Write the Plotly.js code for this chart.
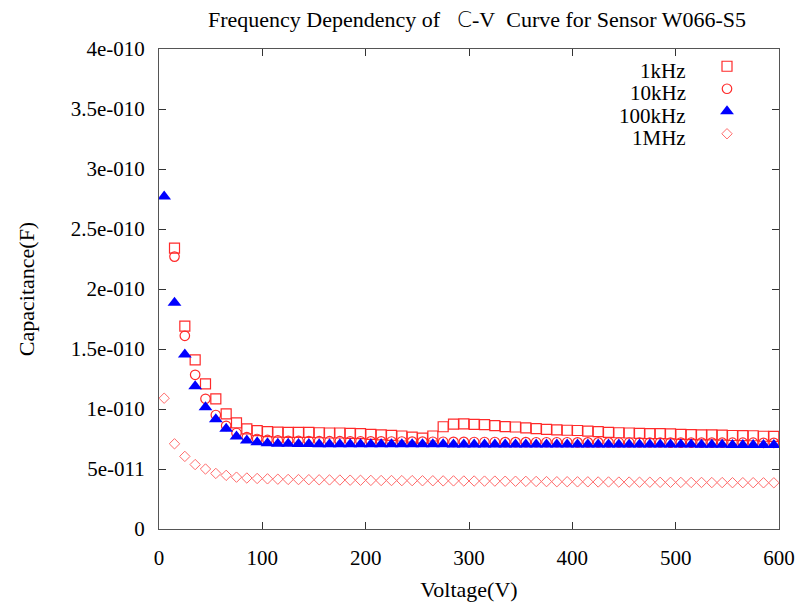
<!DOCTYPE html>
<html>
<head>
<meta charset="utf-8">
<script src="https://cdn.plot.ly/plotly-3.0.1.min.js"></script>
<style>html,body{margin:0;padding:0;background:#fff;}#chart{width:803px;height:602px;}</style>
</head>
<body>
<div id="chart"></div>
<script>
// Voltage (V)
var volts = [5,15,25,35,45,55,65,75,85,95,105,115,125,135,145,155,165,175,185,195,205,215,225,235,245,255,265,275,285,295,305,315,325,335,345,355,365,375,385,395,405,415,425,435,445,455,465,475,485,495,505,515,525,535,545,555,565,575,585,595];

// Capacitance (F) per frequency
var cap1kHz = [null,2.34e-10,1.69e-10,1.41e-10,1.21e-10,1.085e-10,0.96e-10,0.885e-10,0.835e-10,0.82e-10,0.812e-10,0.808e-10,0.806e-10,0.805e-10,0.805e-10,0.802e-10,0.80e-10,0.80e-10,0.797e-10,0.794e-10,0.788e-10,0.784e-10,0.78e-10,0.775e-10,0.765e-10,0.758e-10,0.775e-10,0.852e-10,0.874e-10,0.876e-10,0.872e-10,0.869e-10,0.862e-10,0.853e-10,0.85e-10,0.843e-10,0.836e-10,0.83e-10,0.826e-10,0.823e-10,0.821e-10,0.815e-10,0.812e-10,0.806e-10,0.802e-10,0.80e-10,0.797e-10,0.795e-10,0.794e-10,0.792e-10,0.789e-10,0.786e-10,0.785e-10,0.784e-10,0.782e-10,0.779e-10,0.778e-10,0.777e-10,0.773e-10,0.772e-10];
var cap10kHz = [null,2.27e-10,1.61e-10,1.285e-10,1.085e-10,0.95e-10,0.86e-10,0.80e-10,0.765e-10,0.75e-10,0.742e-10,0.738e-10,0.735e-10,0.734e-10,0.733e-10,0.733e-10,0.732e-10,0.732e-10,0.731e-10,0.731e-10,0.730e-10,0.730e-10,0.729e-10,0.729e-10,0.728e-10,0.728e-10,0.727e-10,0.727e-10,0.726e-10,0.726e-10,0.725e-10,0.725e-10,0.725e-10,0.724e-10,0.724e-10,0.724e-10,0.723e-10,0.723e-10,0.723e-10,0.723e-10,0.722e-10,0.722e-10,0.722e-10,0.722e-10,0.721e-10,0.721e-10,0.721e-10,0.721e-10,0.721e-10,0.720e-10,0.720e-10,0.720e-10,0.720e-10,0.720e-10,0.719e-10,0.719e-10,0.719e-10,0.719e-10,0.718e-10,0.718e-10];
var cap100kHz = [2.77e-10,1.885e-10,1.455e-10,1.19e-10,1.015e-10,0.915e-10,0.835e-10,0.77e-10,0.738e-10,0.722e-10,0.714e-10,0.711e-10,0.710e-10,0.709e-10,0.709e-10,0.707e-10,0.707e-10,0.707e-10,0.707e-10,0.707e-10,0.707e-10,0.707e-10,0.707e-10,0.707e-10,0.707e-10,0.707e-10,0.707e-10,0.706e-10,0.704e-10,0.704e-10,0.704e-10,0.704e-10,0.704e-10,0.704e-10,0.704e-10,0.704e-10,0.704e-10,0.704e-10,0.704e-10,0.704e-10,0.704e-10,0.704e-10,0.704e-10,0.704e-10,0.704e-10,0.704e-10,0.704e-10,0.704e-10,0.704e-10,0.704e-10,0.704e-10,0.704e-10,0.703e-10,0.703e-10,0.703e-10,0.701e-10,0.701e-10,0.701e-10,0.701e-10,0.701e-10];
var cap1MHz = [1.09e-10,0.71e-10,0.605e-10,0.537e-10,0.50e-10,0.463e-10,0.447e-10,0.432e-10,0.425e-10,0.421e-10,0.418e-10,0.415e-10,0.413e-10,0.412e-10,0.411e-10,0.410e-10,0.409e-10,0.408e-10,0.407e-10,0.406e-10,0.405e-10,0.404e-10,0.404e-10,0.403e-10,0.403e-10,0.402e-10,0.402e-10,0.401e-10,0.401e-10,0.400e-10,0.400e-10,0.399e-10,0.399e-10,0.398e-10,0.398e-10,0.397e-10,0.396e-10,0.395e-10,0.394e-10,0.394e-10,0.393e-10,0.393e-10,0.392e-10,0.392e-10,0.391e-10,0.391e-10,0.390e-10,0.390e-10,0.389e-10,0.389e-10,0.388e-10,0.388e-10,0.388e-10,0.387e-10,0.387e-10,0.386e-10,0.386e-10,0.386e-10,0.385e-10,0.385e-10];

var seriesNames = ['1kHz','10kHz','100kHz','1MHz'];

// Axis ticks
var xTicks = [0,100,200,300,400,500,600];
var yTickVals = [0,0.5e-10,1e-10,1.5e-10,2e-10,2.5e-10,3e-10,3.5e-10,4e-10];
var yTickText = ['0','5e-011','1e-010','1.5e-010','2e-010','2.5e-010','3e-010','3.5e-010','4e-010'];

var serif = 'Liberation Serif, Times New Roman, serif';

var traces = [
  {x: volts, y: cap1kHz, name: '', type: 'scatter', mode: 'markers',
   marker: {symbol: 'square-open', size: 10, color: '#ff2a2a', line: {width: 1.2, color: '#ff2a2a'}}},
  {x: volts, y: cap10kHz, name: '', type: 'scatter', mode: 'markers',
   marker: {symbol: 'circle-open', size: 9.5, color: '#ff2a2a', line: {width: 1.2, color: '#ff2a2a'}}},
  {x: volts, y: cap100kHz, name: '', type: 'scatter', mode: 'markers',
   marker: {symbol: 'triangle-up', size: 12, color: '#0000ff', line: {width: 0}}},
  {x: volts, y: cap1MHz, name: '', type: 'scatter', mode: 'markers',
   marker: {symbol: 'diamond-open', size: 8, color: '#ff6a6a', line: {width: 1, color: '#ff6a6a'}}}
];

var W = 803, H = 602, ml = 159, mr = 24, mt = 49, mb = 73;
var pw = W - ml - mr, ph = H - mt - mb;

// legend labels as annotations (text right-aligned, to the left of symbols)
var legendTextRight = 688, legendTop = 71, legendStep = 22.3;
var annotations = seriesNames.map(function (n, i) {
  return {
    text: n, xref: 'paper', yref: 'paper', showarrow: false,
    x: (legendTextRight - ml) / pw, xanchor: 'right',
    y: 1 - (legendTop + i * legendStep - mt) / ph, yanchor: 'middle',
    font: {family: serif, size: 21, color: '#000'}
  };
});

var layout = {
  width: W, height: H,
  margin: {l: ml, r: mr, t: mt, b: mb, pad: 0},
  paper_bgcolor: '#fff', plot_bgcolor: '#fff',
  showlegend: true,
  legend: {
    x: (707 - ml) / pw, xanchor: 'left',
    y: 1 - (50 - mt) / ph, yanchor: 'top',
    bgcolor: 'rgba(0,0,0,0)', borderwidth: 0,
    font: {family: serif, size: 15},
    itemsizing: 'trace'
  },
  title: {
    text: 'Frequency Dependency of\u00a0\u00a0\u00a0<span style="font-family:DejaVu Sans;font-weight:300">C</span>-V\u00a0\u00a0Curve for Sensor W066-S5',
    font: {family: serif, size: 22, color: '#000'},
    x: 477 / W, xanchor: 'center', xref: 'container',
    y: 1 - 19 / H, yanchor: 'middle', yref: 'container'
  },
  xaxis: {
    range: [0, 600], tickvals: xTicks, ticktext: xTicks.map(String),
    ticks: 'inside', ticklen: 7, tickcolor: '#333', tickwidth: 1,
    showline: true, linecolor: '#555', linewidth: 1, mirror: 'ticks',
    showgrid: false, zeroline: false,
    tickfont: {family: serif, size: 21, color: '#000'},
    ticklabelstandoff: 10,
    title: {text: 'Voltage(V)', font: {family: serif, size: 22, color: '#000'}, standoff: 16}
  },
  yaxis: {
    range: [0, 4e-10], tickvals: yTickVals, ticktext: yTickText,
    ticks: 'inside', ticklen: 7, tickcolor: '#333', tickwidth: 1,
    showline: true, linecolor: '#555', linewidth: 1, mirror: 'ticks',
    showgrid: false, zeroline: false,
    tickfont: {family: serif, size: 21, color: '#000'},
    ticklabelstandoff: 9,
    title: {text: 'Capacitance(F)', font: {family: serif, size: 22, color: '#000'}, standoff: 30}
  },
  annotations: annotations
};

Plotly.newPlot('chart', traces, layout, {displayModeBar: false, staticPlot: true});
</script>
</body>
</html>
